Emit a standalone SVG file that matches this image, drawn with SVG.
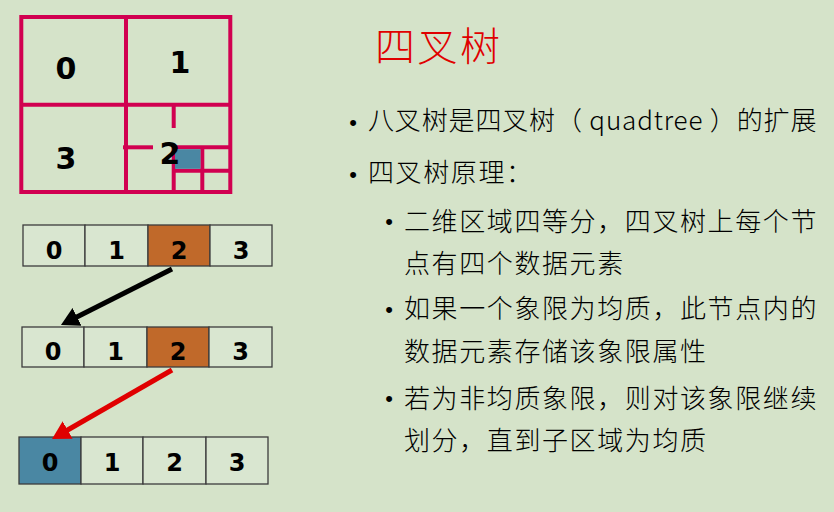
<svg xmlns="http://www.w3.org/2000/svg" width="834" height="512" viewBox="0 0 834 512">
<style>
.qt{fill:none;stroke:#d10050;stroke-width:4}
.qd{font-family:"DejaVu Sans",sans-serif;font-weight:bold;font-size:30px;fill:#000;text-anchor:middle}
.cell{fill:#d9e6d0;stroke:#3c3c3c;stroke-width:1.3}
.or{fill:#c0692a}
.bl{fill:#4a87a3}
.cd{font-family:"DejaVu Sans",sans-serif;font-weight:bold;font-size:24px;fill:#000;text-anchor:middle}
.tx{font-family:"Noto Sans CJK SC",sans-serif;font-weight:300;font-size:26px;letter-spacing:1.6px;fill:#000}
.bu{font-family:"Liberation Sans",sans-serif;font-size:22px;fill:#000;text-anchor:middle}
.arr{fill:none;stroke-width:5}
</style>
<defs>
<marker id="ahK" markerUnits="userSpaceOnUse" markerWidth="18" markerHeight="20" viewBox="0 0 18 20" refX="8" refY="10" orient="auto"><path d="M0,0 L18,10 L0,20 z" fill="#000"/></marker>
<marker id="ahR" markerUnits="userSpaceOnUse" markerWidth="18" markerHeight="20" viewBox="0 0 18 20" refX="8" refY="10" orient="auto"><path d="M0,0 L18,10 L0,20 z" fill="#e00000"/></marker>
</defs>
<rect width="834" height="512" fill="#d5e3c9"/>
<g id="quadtree">
<rect class="qt" x="21.3" y="17" width="209" height="175"/>
<line class="qt" x1="126" y1="17" x2="126" y2="192"/>
<line class="qt" x1="21.3" y1="104.7" x2="230.3" y2="104.7"/>
<line class="qt" x1="173.7" y1="105" x2="173.7" y2="128"/>
<line class="qt" x1="173.7" y1="147" x2="173.7" y2="192"/>
<line class="qt" x1="123" y1="147.3" x2="153" y2="147.3"/>
<line class="qt" x1="173.7" y1="147.3" x2="230.3" y2="147.3"/>
<line class="qt" x1="173.7" y1="170.7" x2="230.3" y2="170.7"/>
<line class="qt" x1="202.3" y1="147.3" x2="202.3" y2="192"/>
<rect class="bl" x="175" y="149.2" width="25.5" height="19.6"/>
<text class="qd" x="66" y="78.5">0</text>
<text class="qd" x="180" y="73">1</text>
<text class="qd" x="66" y="168.5">3</text>
<text class="qd" x="170" y="163.5">2</text>
</g>
<g id="array1">
<rect class="cell" x="23" y="225" width="62" height="41"/>
<rect class="cell" x="85" y="225" width="63" height="41"/>
<rect class="cell or" x="148" y="225" width="62" height="41"/>
<rect class="cell" x="210" y="225" width="62" height="41"/>
<text class="cd" x="54" y="259">0</text>
<text class="cd" x="116.5" y="259">1</text>
<text class="cd" x="179" y="259">2</text>
<text class="cd" x="241" y="259">3</text>
</g>
<g id="array2">
<rect class="cell" x="22" y="327" width="62" height="40"/>
<rect class="cell" x="84" y="327" width="63" height="40"/>
<rect class="cell or" x="147" y="327" width="62" height="40"/>
<rect class="cell" x="209" y="327" width="63" height="40"/>
<text class="cd" x="53" y="360">0</text>
<text class="cd" x="115.5" y="360">1</text>
<text class="cd" x="178" y="360">2</text>
<text class="cd" x="240.5" y="360">3</text>
</g>
<g id="array3">
<rect class="cell bl" x="19" y="437" width="62" height="47"/>
<rect class="cell" x="81" y="437" width="62" height="47"/>
<rect class="cell" x="143" y="437" width="63" height="47"/>
<rect class="cell" x="206" y="437" width="62" height="47"/>
<text class="cd" x="50" y="470.5">0</text>
<text class="cd" x="112" y="470.5">1</text>
<text class="cd" x="174.5" y="470.5">2</text>
<text class="cd" x="237" y="470.5">3</text>
</g>
<g id="connectors">
<line class="arr" stroke="#000" x1="172" y1="269" x2="69.9" y2="320.5" marker-end="url(#ahK)"/>
<line class="arr" stroke="#e00000" x1="172" y1="370" x2="60.7" y2="434" marker-end="url(#ahR)"/>
</g>
<g id="text">
<text x="375" y="61" font-family="Noto Sans CJK SC, sans-serif" font-weight="300" font-size="40" letter-spacing="2.5" fill="#e00000">四叉树</text>
<text class="bu" x="353" y="129.5">•</text>
<text class="tx" x="368" y="130" textLength="450" lengthAdjust="spacing">八叉树是四叉树（ quadtree ）的扩展</text>
<text class="bu" x="353" y="181.5">•</text>
<text class="tx" x="368" y="182">四叉树原理：</text>
<text class="bu" x="389" y="228.5">•</text>
<text class="tx" x="404" y="230.5">二维区域四等分，四叉树上每个节</text>
<text class="tx" x="404" y="272.5">点有四个数据元素</text>
<text class="bu" x="389" y="316.5">•</text>
<text class="tx" x="404" y="317.5">如果一个象限为均质，此节点内的</text>
<text class="tx" x="404" y="360.5">数据元素存储该象限属性</text>
<text class="bu" x="389" y="405.5">•</text>
<text class="tx" x="404" y="407.5">若为非均质象限，则对该象限继续</text>
<text class="tx" x="404" y="449.5">划分，直到子区域为均质</text>
</g>
</svg>
